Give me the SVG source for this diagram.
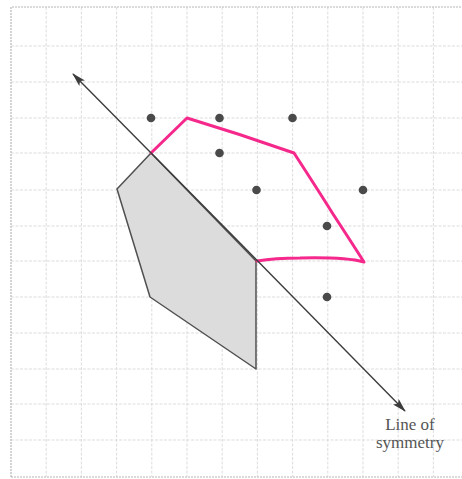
<svg xmlns="http://www.w3.org/2000/svg" width="462" height="479" viewBox="0 0 462 479">
<style>
.grid{stroke:#d9d9d9;stroke-width:0.9;stroke-dasharray:3 1.5;fill:none}
.border{stroke:#b8b8b8;stroke-width:1.2;stroke-dasharray:2 1;fill:none}
.dot{fill:#4a4a4a}
.lbl{font-family:"Liberation Serif","Times New Roman",serif;font-size:17px;fill:#555;text-anchor:middle}
</style>
<defs>
<marker id="ah" viewBox="0 0 14 8" refX="13" refY="4" markerWidth="14" markerHeight="8" markerUnits="userSpaceOnUse" orient="auto">
<path d="M0,0 L14,4 L0,8 L3,4 Z" fill="#3c3c3c"/>
</marker>
</defs>
<rect width="462" height="479" fill="#fff"/>
<g id="grid">
<path class="grid" d="M46.2,7V477M81.4,7V477M116.6,7V477M151.8,7V477M187,7V477M222.2,7V477M257.4,7V477M292.6,7V477M327.8,7V477M363,7V477M398.2,7V477M433.4,7V477"/>
<path class="grid" d="M11,46H462M11,82H462M11,118H462M11,153H462M11,190H462M11,226H462M11,261H462M11,297H462M11,333H462M11,369H462M11,404H462M11,440H462"/>
<path class="border" d="M11,477V7H462M11,477H462"/>
</g>
<g id="shaded-shape">
<polygon points="151,153 117,189 150,297 256,369 256,261" fill="#dcdcdc" stroke="#505050" stroke-width="1.5" stroke-linejoin="round"/>
</g>
<g id="reflected-shape">
<path d="M151,153 L187,118 Q240,134 294,153 Q318,190 333,214 Q350,240 364,262 Q345,257 300,258 Q275,258 257,261" fill="none" stroke="#f5288c" stroke-width="3" stroke-linejoin="round" stroke-linecap="round"/>
</g>
<g id="points">
<circle class="dot" cx="151" cy="118" r="4.3"/>
<circle class="dot" cx="219.5" cy="118" r="4.3"/>
<circle class="dot" cx="292.5" cy="118" r="4.3"/>
<circle class="dot" cx="219.5" cy="153" r="4.3"/>
<circle class="dot" cx="256.5" cy="190" r="4.3"/>
<circle class="dot" cx="363" cy="190" r="4.3"/>
<circle class="dot" cx="327" cy="226" r="4.3"/>
<circle class="dot" cx="327" cy="297" r="4.3"/>
</g>
<g id="connectors">
<line x1="240" y1="243" x2="73" y2="74" stroke="#3c3c3c" stroke-width="1.4" marker-end="url(#ah)"/>
<line x1="240" y1="243" x2="405" y2="411" stroke="#3c3c3c" stroke-width="1.4" marker-end="url(#ah)"/>
</g>
<g id="label">
<text class="lbl" x="410" y="430">Line of</text>
<text class="lbl" x="410" y="448">symmetry</text>
</g>
</svg>
